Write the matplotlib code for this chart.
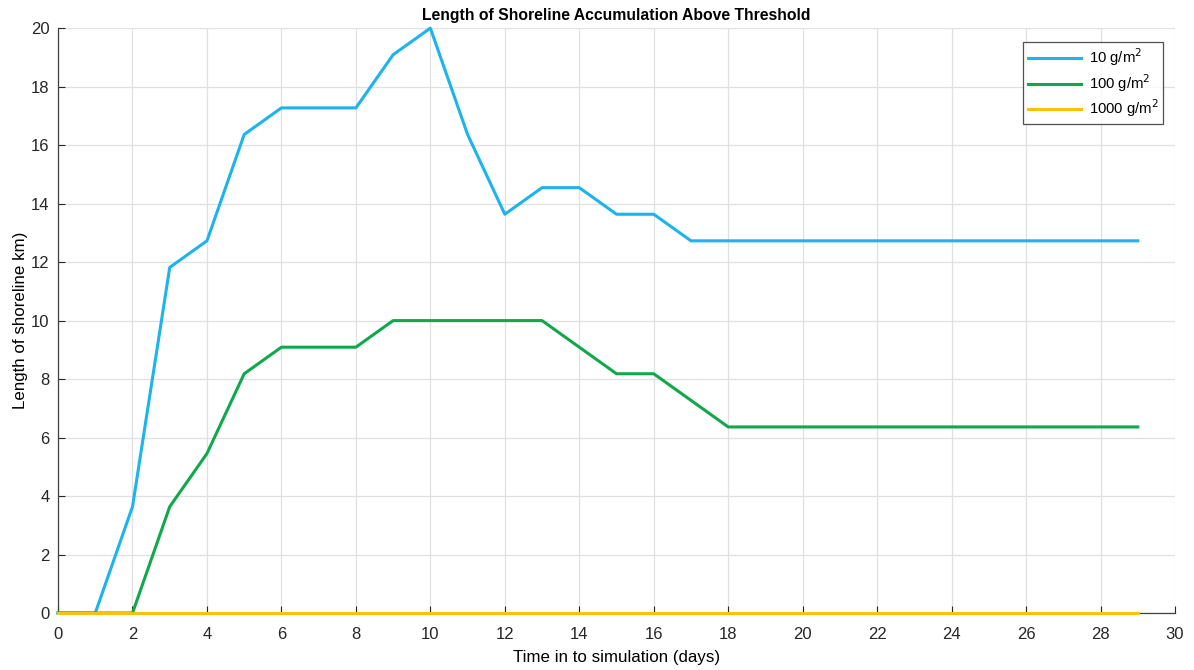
import matplotlib
matplotlib.use("Agg")
import matplotlib.pyplot as plt
import numpy as np

plt.rcParams['font.family'] = ['Liberation Sans', 'DejaVu Sans']

days = list(range(0, 30))
cell = 10 / 11  # km per shoreline cell

# counts of shoreline cells above each threshold, per day
cells_10 = [0, 0, 4, 13, 14, 18, 19, 19, 19, 21, 22, 18, 15, 16, 16, 15, 15, 14,
            14, 14, 14, 14, 14, 14, 14, 14, 14, 14, 14, 14]
cells_100 = [0, 0, 0, 4, 6, 9, 10, 10, 10, 11, 11, 11, 11, 11, 10, 9, 9, 8,
             7, 7, 7, 7, 7, 7, 7, 7, 7, 7, 7, 7]
cells_1000 = [0] * 30

series_labels = ['10 g/m$^2$', '100 g/m$^2$', '1000 g/m$^2$']
series_colors = ['#1db3ec', '#10a84c', '#fcc10a']

fig = plt.figure(figsize=(11.94, 6.7), dpi=100)
ax = fig.add_axes([0.0486, 0.085, 0.9355, 0.873])

for cells, lab, col in zip([cells_10, cells_100, cells_1000], series_labels, series_colors):
    ax.plot(days, np.array(cells) * cell, color=col, lw=2.2, label=lab,
            clip_on=False, zorder=3)

ax.set_xlim(0, 30)
ax.set_ylim(0, 20)
ax.set_xticks(range(0, 31, 2))
ax.set_yticks(range(0, 21, 2))
ax.grid(True, color='#e0e0e0', lw=0.9)
ax.set_axisbelow(True)
for s in ['top', 'right']:
    ax.spines[s].set_visible(False)
for s in ['left', 'bottom']:
    ax.spines[s].set_color('#404040')
    ax.spines[s].set_linewidth(0.9)
    ax.spines[s].set_zorder(2.5)
ax.tick_params(direction='in', length=5, labelsize=12, colors='#262626')
ax.tick_params(axis='x', pad=10)
ax.tick_params(axis='y', pad=6)

ax.set_title('Length of Shoreline Accumulation Above Threshold', fontsize=11.3,
             fontweight='bold', pad=6)
ax.set_xlabel('Time in to simulation (days)', fontsize=12.2, labelpad=6)
ax.set_ylabel('Length of shoreline km)', fontsize=12.2, labelpad=2)

leg = ax.legend(loc='upper right', bbox_to_anchor=(0.989, 0.976), fontsize=10.7,
                frameon=True, fancybox=False, handlelength=3.6, borderpad=0.3,
                labelspacing=0.25, handletextpad=0.5, borderaxespad=0)
leg.get_frame().set_edgecolor('#262626')
leg.get_frame().set_linewidth(0.9)

fig.savefig('out.png', dpi=100)
